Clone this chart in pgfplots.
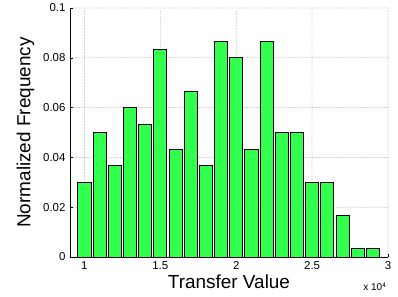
\documentclass[border=0pt]{standalone}
\usepackage{pgfplots}
\pgfplotsset{compat=1.18}
\usepackage{fontspec}
\setmainfont{Liberation Sans}
\definecolor{bargreen}{RGB}{51,255,77}
\begin{document}
\begin{tikzpicture}
\begin{axis}[
  name=ax,
  scale only axis,
  width=318bp, height=249bp,
  xmin=0.905, xmax=3,
  ymin=0, ymax=0.1,
  axis x line*=bottom, axis y line*=left,
  axis line style={-,black,line width=0.6pt},
  tick align=inside,
  major tick length=3bp,
  tick style={black,line width=0.5pt},
  xtick={1,1.5,2,2.5,3},
  xticklabels={1,1.5,2,2.5,3},
  ytick={0,0.02,0.04,0.06,0.08,0.1},
  yticklabels={0,0.02,0.04,0.06,0.08,0.1},
  tick label style={font=\fontsize{11.5}{13}\selectfont},
  xticklabel style={yshift=-1bp},
  yticklabel style={xshift=-1bp},
  grid=major,
  major grid style={black!75,line width=0.75pt,line cap=round,dash pattern=on 0pt off 3bp},
  xlabel={Transfer Value},
  ylabel={Normalized Frequency},
  label style={font=\fontsize{19}{22}\selectfont},
  xlabel style={yshift=2bp},
  ylabel style={yshift=2bp},
  clip=false,
]
\addplot[ybar, bar width=0.086, fill=bargreen, draw=black, line width=0.8pt]
coordinates {
(1.0,0.0300) (1.1,0.0500) (1.2,0.0367) (1.3,0.0600) (1.4,0.0533)
(1.5,0.0833) (1.6,0.0433) (1.7,0.0667) (1.8,0.0367) (1.9,0.0867)
(2.0,0.0800) (2.1,0.0433) (2.2,0.0867) (2.3,0.0500) (2.4,0.0500)
(2.5,0.0300) (2.6,0.0300) (2.7,0.0167) (2.8,0.0033) (2.9,0.0033)
};
\end{axis}
\node[font=\fontsize{10}{12}\selectfont, anchor=north east] at ([xshift=2bp,yshift=-22bp]ax.south east) {x 10$^{\mathsf{4}}$};
\pgfresetboundingbox
\path[use as bounding box] ([xshift=-70bp,yshift=-40bp]ax.south west) rectangle ([xshift=10bp,yshift=8bp]ax.north east);
\end{tikzpicture}
\end{document}
